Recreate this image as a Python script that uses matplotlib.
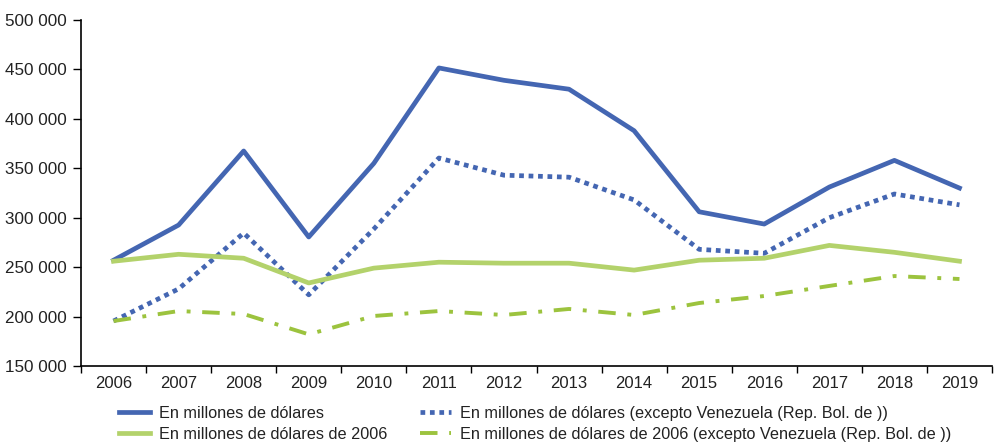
import matplotlib
matplotlib.use("Agg")
import matplotlib.pyplot as plt
from matplotlib.ticker import FixedLocator, FuncFormatter

plt.rcParams['font.family'] = ['Liberation Sans', 'DejaVu Sans']

years = ["2006", "2007", "2008", "2009", "2010", "2011", "2012", "2013",
         "2014", "2015", "2016", "2017", "2018", "2019"]
usd = [257000, 292600, 367500, 280500, 355000, 451500, 439000, 430000,
       388000, 306000, 293600, 331000, 358000, 330000]
usd_exc_ven = [195500, 228000, 284500, 222000, 288600, 360400, 343000, 341000,
               318000, 268000, 264000, 300000, 324000, 313000]
usd2006 = [256000, 263000, 259000, 234000, 249000, 255000, 254000, 254000,
           247000, 257000, 259000, 272000, 265000, 256000]
usd2006_exc_ven = [195500, 205600, 202600, 182000, 200600, 205600, 201600, 207700,
                   201600, 213700, 220800, 231000, 241000, 238000]

labels = ["En millones de dólares",
          "En millones de dólares (excepto Venezuela (Rep. Bol. de ))",
          "En millones de dólares de 2006",
          "En millones de dólares de 2006 (excepto Venezuela (Rep. Bol. de ))"]

blue = "#4466b2"
green = "#b3d26b"
green2 = "#9cc33e"
txt = "#222222"

fig = plt.figure(figsize=(9.94, 4.46), dpi=100)
ax = fig.add_axes([81/994, 80/446, (992-81)/994, 346/446])

x = list(range(len(years)))
l1, = ax.plot(x, usd, color=blue, lw=3.4, label=labels[0])
l2, = ax.plot(x, usd_exc_ven, color=blue, lw=3.4, linestyle=(0, (1, 1)),
              dash_capstyle='butt', label=labels[1])
l3, = ax.plot(x, usd2006, color=green, lw=3.4, label=labels[2])
l4, = ax.plot(x, usd2006_exc_ven, color=green2, lw=2.8, linestyle=(0, (4.5, 3, 1, 3)),
              dash_capstyle='butt', label=labels[3])

ax.set_xlim(-0.5, len(years) - 0.5)
ax.set_ylim(150000, 500000)
ax.set_yticks(range(150000, 500001, 50000))
ax.yaxis.set_major_formatter(FuncFormatter(lambda v, p: f"{int(v):,}".replace(",", " ")))

ax.xaxis.set_major_locator(FixedLocator([i - 0.5 for i in range(len(years) + 1)]))
ax.set_xticklabels([], minor=False)
ax.set_xticks(x, minor=True)
ax.set_xticklabels(years, minor=True)
ax.tick_params(axis='x', which='major', length=5, width=1, direction='out')
ax.tick_params(axis='x', which='minor', length=0, labelsize=12, pad=7, labelcolor=txt)
ax.tick_params(axis='y', length=6, width=1, direction='out', labelsize=12.3, pad=4, labelcolor=txt)

for s in ['top', 'right']:
    ax.spines[s].set_visible(False)
for s in ['left', 'bottom']:
    ax.spines[s].set_linewidth(1.2)
    ax.spines[s].set_color('black')

leg_kw = dict(frameon=False, fontsize=11.7, handlelength=1.9, handletextpad=0.55,
              labelspacing=0.35, borderaxespad=0, borderpad=0, labelcolor=txt)
leg1 = fig.legend(handles=[l1, l3], labels=[labels[0], labels[2]],
                  loc='upper left', bbox_to_anchor=(119/994, 1 - 406/446), **leg_kw)
leg2 = fig.legend(handles=[l2, l4], labels=[labels[1], labels[3]],
                  loc='upper left', bbox_to_anchor=(420/994, 1 - 406/446), **leg_kw)

fig.savefig("out.png", dpi=100)
